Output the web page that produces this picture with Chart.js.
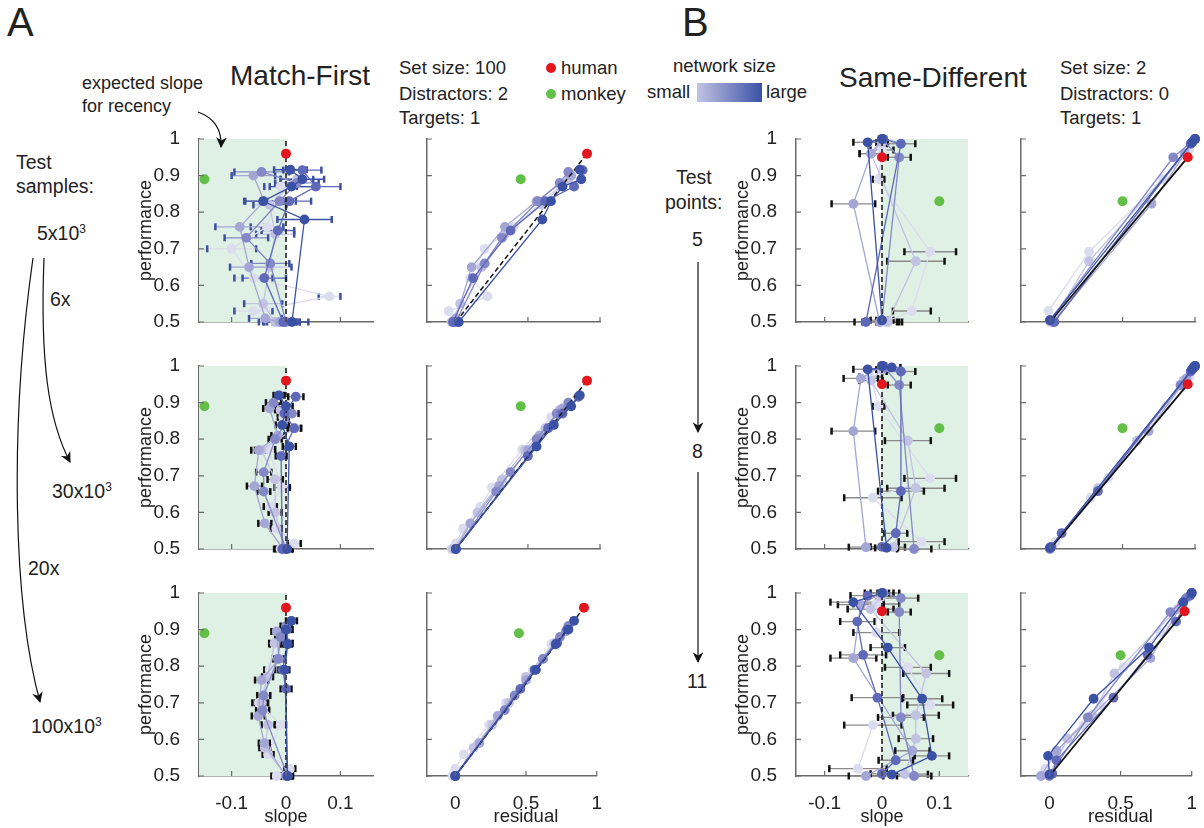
<!DOCTYPE html>
<html>
<head>
<meta charset="utf-8">
<script src="https://cdn.jsdelivr.net/npm/chart.js@4.4.1/dist/chart.umd.min.js"></script>
<style>
  body { margin: 0; background: #fff; }
  #fig { position: relative; width: 1204px; height: 828px; overflow: hidden;
         font-family: "Liberation Sans", Arial, sans-serif; color: #222; }
  .t { position: absolute; white-space: nowrap; line-height: 1; font-size: 18.5px; }
  .big { font-size: 19.5px; }
  .dot { position: absolute; width: 10px; height: 10px; border-radius: 50%; }
  canvas { position: absolute; }
  sup { font-size: 12px; vertical-align: 7px; line-height: 0; }
  #arrows { position: absolute; left: 0; top: 0; pointer-events: none; z-index: 5; }
</style>
</head>
<body>
<div id="fig">
  <div class="t" style="left:7px;top:2px;font-size:40px">A</div>
  <div class="t" style="left:682px;top:2px;font-size:40px">B</div>

  <div class="t" style="left:82px;top:74px;font-size:18px">expected slope</div>
  <div class="t" style="left:82px;top:97px;font-size:18px">for recency</div>
  <div class="t" style="left:230px;top:62px;font-size:28px">Match-First</div>
  <div class="t" style="left:399px;top:59px">Set size: 100</div>
  <div class="t" style="left:399px;top:85px">Distractors: 2</div>
  <div class="t" style="left:399px;top:109px">Targets: 1</div>
  <div class="dot" style="left:546px;top:63px;background:#e3161e"></div>
  <div class="t" style="left:561px;top:59px">human</div>
  <div class="dot" style="left:546px;top:89px;background:#62bf47"></div>
  <div class="t" style="left:561px;top:85px">monkey</div>
  <div class="t" style="left:673px;top:57px">network size</div>
  <div class="t" style="left:647px;top:83px">small</div>
  <div style="position:absolute;left:697px;top:83px;width:65px;height:19px;background:linear-gradient(90deg,#c2c3e3,#3a51a5)"></div>
  <div class="t" style="left:766px;top:83px">large</div>
  <div class="t" style="left:839px;top:64px;font-size:28px">Same-Different</div>
  <div class="t" style="left:1060px;top:59px">Set size: 2</div>
  <div class="t" style="left:1060px;top:85px">Distractors: 0</div>
  <div class="t" style="left:1060px;top:109px">Targets: 1</div>

  <div class="t big" style="left:16px;top:153px">Test</div>
  <div class="t big" style="left:16px;top:177px">samples:</div>
  <div class="t big" style="left:37px;top:224px">5x10<sup>3</sup></div>
  <div class="t big" style="left:50px;top:290px">6x</div>
  <div class="t big" style="left:52px;top:482px">30x10<sup>3</sup></div>
  <div class="t big" style="left:28px;top:559px">20x</div>
  <div class="t big" style="left:31px;top:717px">100x10<sup>3</sup></div>

  <div class="t big" style="left:676px;top:168px">Test</div>
  <div class="t big" style="left:665px;top:193px">points:</div>
  <div class="t big" style="left:692px;top:230px">5</div>
  <div class="t big" style="left:692px;top:442px">8</div>
  <div class="t big" style="left:687px;top:672px">11</div>

  <svg id="arrows" width="1204" height="828">
    <defs>
      <marker id="ah" viewBox="0 0 10 10" refX="9" refY="5" markerWidth="9" markerHeight="9" orient="auto">
        <path d="M0,0 L10,5 L0,10 L3,5 z" fill="#111"/>
      </marker>
    </defs>
    <g fill="none" stroke="#111" stroke-width="1.2" marker-end="url(#ah)">
      <path d="M44,258 C40,360 48,420 70,462"/>
      <path d="M33,258 C10,420 12,600 40,702"/>
      <path d="M198,112 C212,117 222,128 221,147"/>
      <path d="M698,262 L698,432"/>
      <path d="M698,472 L698,662"/>
    </g>
  </svg>
</div>

<script>
// ---- data ----
const perfTicks = [0.5, 0.6, 0.7, 0.8, 0.9, 1]
const slopeTicks = [-0.1, 0, 0.1]
const residTicks = [0, 0.5, 1]

// human / monkey reference points: [slope, performance, residual]
const humanA = [0, 0.96, 0.91]
const monkeyA = [-0.15, 0.89, 0.45]
const humanB = [0, 0.95, 0.95]
const monkeyB = [0.1, 0.83, 0.5]

// network sizes, small -> large; one inner array per network

// Match-First, 5x10^3 test samples
const A1_perf = [
  [0.50, 0.53, 0.57, 0.62, 0.70, 0.76, 0.87],
  [0.50, 0.55, 0.65, 0.74, 0.82, 0.89],
  [0.50, 0.51, 0.65, 0.76, 0.83, 0.90],
  [0.50, 0.66, 0.73, 0.83, 0.88, 0.91],
  [0.50, 0.62, 0.75, 0.83, 0.87, 0.915],
  [0.50, 0.78, 0.83, 0.87, 0.89, 0.916],
]
const A1_slope = [
  [-0.01, -0.06, 0.08, -0.06, -0.10, -0.035, -0.01],
  [-0.02, -0.042, -0.03, -0.02, -0.03, 0.02],
  [-0.012, -0.038, -0.068, -0.085, -0.04, -0.06],
  [0.0, -0.029, -0.073, -0.012, 0.02, -0.045],
  [-0.005, -0.04, -0.015, 0.006, 0.055, 0.03],
  [0.011, 0.034, -0.042, 0.01, 0.03, 0.008],
]
const A1_err = [
  [0.03, 0.035, 0.02, 0.035, 0.045, 0.03, 0.03],
  [0.03, 0.035, 0.04, 0.035, 0.03, 0.03],
  [0.03, 0.03, 0.035, 0.045, 0.035, 0.04],
  [0.025, 0.035, 0.04, 0.03, 0.04, 0.05],
  [0.03, 0.04, 0.03, 0.04, 0.045, 0.035],
  [0.03, 0.05, 0.035, 0.04, 0.04, 0.03],
]
const A1_resid = [
  [-0.02, -0.05, 0.22, 0.10, 0.20, 0.40, 0.72],
  [-0.03, 0.03, 0.18, 0.34, 0.60, 0.78],
  [0.0, 0.0, 0.11, 0.34, 0.56, 0.80],
  [0.0, 0.20, 0.32, 0.57, 0.72, 0.78],
  [-0.02, 0.12, 0.38, 0.62, 0.82, 0.88],
  [0.02, 0.60, 0.66, 0.74, 0.87, 0.86],
]

// Match-First, 30x10^3 test samples
const A2_perf = [
  [0.50, 0.515, 0.556, 0.616, 0.668, 0.772, 0.86],
  [0.50, 0.60, 0.69, 0.77, 0.83, 0.88],
  [0.50, 0.57, 0.672, 0.77, 0.81, 0.884],
  [0.50, 0.657, 0.71, 0.80, 0.87, 0.90],
  [0.50, 0.754, 0.83, 0.87, 0.916],
  [0.50, 0.78, 0.839, 0.89, 0.92],
]
const A2_slope = [
  [-0.01, 0.015, -0.018, -0.029, -0.007, -0.032, -0.005],
  [0.0, -0.02, -0.02, -0.045, 0.016, -0.01],
  [-0.005, -0.039, -0.058, -0.05, -0.015, -0.03],
  [0.0, -0.041, -0.041, -0.02, 0.011, -0.023],
  [-0.007, -0.009, 0.015, -0.003, 0.018],
  [0.002, 0.006, -0.007, 0.0, -0.013],
]
const A2_err = [
  [0.012, 0.012, 0.01, 0.012, 0.014, 0.012, 0.01],
  [0.012, 0.012, 0.014, 0.012, 0.012, 0.01],
  [0.01, 0.012, 0.014, 0.014, 0.012, 0.012],
  [0.01, 0.012, 0.014, 0.012, 0.012, 0.014],
  [0.012, 0.01, 0.012, 0.012, 0.014],
  [0.01, 0.012, 0.012, 0.012, 0.01],
]
const A2_resid = [
  [-0.03, 0.0, 0.05, 0.17, 0.25, 0.46, 0.66],
  [-0.02, 0.15, 0.32, 0.48, 0.62, 0.72],
  [0.0, 0.10, 0.30, 0.50, 0.58, 0.74],
  [0.0, 0.28, 0.38, 0.56, 0.70, 0.78],
  [0.0, 0.50, 0.64, 0.74, 0.85],
  [0.0, 0.56, 0.68, 0.80, 0.86],
]

// Match-First, 100x10^3 test samples
const A3_perf = [
  [0.50, 0.52, 0.559, 0.64, 0.70, 0.79, 0.86],
  [0.50, 0.577, 0.64, 0.70, 0.771, 0.863],
  [0.50, 0.59, 0.664, 0.762, 0.82, 0.895],
  [0.50, 0.68, 0.72, 0.82, 0.88, 0.91],
  [0.50, 0.738, 0.79, 0.863, 0.90],
  [0.50, 0.79, 0.86, 0.90, 0.924],
]
const A3_slope = [
  [-0.017, 0.007, -0.033, -0.01, -0.05, -0.03, -0.02],
  [0.0, -0.039, -0.033, -0.045, -0.034, -0.021],
  [0.0, -0.04, -0.051, -0.045, -0.013, -0.017],
  [0.003, -0.043, -0.041, -0.015, -0.01, 0.0],
  [0.002, 0.0, -0.006, 0.002, 0.002],
  [0.003, -0.002, 0.003, 0.0, 0.01],
]
const A3_err = [
  [0.01, 0.01, 0.01, 0.01, 0.012, 0.01, 0.01],
  [0.01, 0.01, 0.012, 0.012, 0.01, 0.01],
  [0.008, 0.01, 0.012, 0.012, 0.01, 0.01],
  [0.008, 0.012, 0.012, 0.01, 0.01, 0.01],
  [0.01, 0.01, 0.008, 0.01, 0.01],
  [0.01, 0.008, 0.008, 0.01, 0.01],
]
const A3_resid = [
  [-0.02, 0.0, 0.06, 0.24, 0.36, 0.55, 0.68],
  [0.0, 0.13, 0.26, 0.38, 0.50, 0.70],
  [0.0, 0.17, 0.30, 0.50, 0.62, 0.78],
  [0.0, 0.35, 0.42, 0.62, 0.74, 0.80],
  [0.0, 0.46, 0.56, 0.72, 0.79],
  [0.0, 0.57, 0.71, 0.80, 0.84],
]

// Same-Different, 5 test points
const B1_perf = [
  [0.50, 0.53, 0.692, 0.89, 0.97],
  [0.50, 0.666, 0.96, 0.99],
  [0.50, 0.823, 0.96, 1.0],
  [0.505, 0.95, 1.0],
  [0.50, 0.987, 1.0],
  [0.505, 0.991, 1.0],
]
const B1_slope = [
  [0.005, 0.052, 0.084, -0.006, 0.0],
  [0.01, 0.059, -0.019, 0.0],
  [-0.004, -0.05, -0.019, 0.0],
  [0.0, 0.03, 0.0],
  [-0.028, 0.033, 0.002],
  [0.0, -0.025, 0.0],
]
const B1_err = [
  [0.03, 0.033, 0.045, 0.01, 0.02],
  [0.02, 0.05, 0.02, 0.01],
  [0.03, 0.038, 0.02, 0.005],
  [0.02, 0.02, 0.005],
  [0.02, 0.025, 0.005],
  [0.01, 0.025, 0.005],
]
const B1_resid = [
  [0.0, -0.01, 0.27, 0.78, 0.96],
  [0.01, 0.27, 0.93, 0.98],
  [0.02, 0.70, 0.93, 1.0],
  [0.0, 0.85, 1.0],
  [0.03, 0.97, 1.0],
  [0.0, 0.98, 1.0],
]

// Same-Different, 8 test points
const B2_perf = [
  [0.52, 0.64, 0.693, 0.89, 0.97],
  [0.505, 0.666, 0.796, 0.96, 0.99],
  [0.505, 0.822, 0.966, 1.0],
  [0.50, 0.948, 0.995],
  [0.506, 0.543, 0.658, 0.985, 1.0],
  [0.503, 0.991, 0.996, 1.0],
]
const B2_slope = [
  [0.069, -0.016, 0.084, -0.006, -0.02],
  [0.02, 0.059, 0.045, -0.019, 0.0],
  [-0.028, -0.05, -0.037, 0.0],
  [0.056, 0.03, 0.005],
  [0.0, 0.024, 0.033, 0.033, 0.002],
  [0.008, -0.025, 0.017, 0.0],
]
const B2_err = [
  [0.04, 0.05, 0.045, 0.01, 0.02],
  [0.02, 0.05, 0.04, 0.02, 0.01],
  [0.03, 0.038, 0.03, 0.005],
  [0.03, 0.02, 0.01],
  [0.02, 0.02, 0.04, 0.025, 0.005],
  [0.02, 0.025, 0.015, 0.005],
]
const B2_resid = [
  [0.04, 0.28, 0.40, 0.80, 0.96],
  [0.01, 0.33, 0.60, 0.92, 0.98],
  [0.0, 0.68, 0.94, 1.0],
  [0.0, 0.90, 0.99],
  [0.01, 0.08, 0.33, 0.97, 1.0],
  [0.0, 0.98, 0.99, 1.0],
]

// Same-Different, 11 test points
const B3_perf = [
  [0.52, 0.639, 0.694, 0.797, 0.892, 0.97],
  [0.505, 0.602, 0.666, 0.78, 0.956, 0.99],
  [0.50, 0.569, 0.822, 0.968, 1.0],
  [0.50, 0.66, 0.948, 0.986, 1.0],
  [0.506, 0.543, 0.714, 0.831, 0.922, 0.993],
  [0.504, 0.555, 0.711, 0.851, 0.975, 1.0],
]
const B3_slope = [
  [-0.042, -0.016, 0.084, 0.045, -0.01, -0.01],
  [0.04, 0.059, 0.059, 0.077, -0.02, 0.0],
  [-0.028, 0.053, -0.05, -0.037, 0.0],
  [0.056, 0.033, 0.03, 0.033, 0.002],
  [0.0, 0.024, -0.008, -0.033, -0.043, -0.025],
  [0.017, 0.087, 0.07, 0.01, -0.05, 0.0],
]
const B3_err = [
  [0.05, 0.05, 0.04, 0.04, 0.04, 0.04],
  [0.04, 0.03, 0.04, 0.04, 0.04, 0.03],
  [0.03, 0.03, 0.04, 0.04, 0.03],
  [0.03, 0.04, 0.02, 0.03, 0.01],
  [0.02, 0.03, 0.045, 0.04, 0.03, 0.03],
  [0.02, 0.03, 0.035, 0.03, 0.04, 0.02],
]
const B3_resid = [
  [-0.03, 0.24, 0.36, 0.52, 0.78, 0.94],
  [0.0, 0.125, 0.30, 0.456, 0.90, 0.98],
  [-0.06, 0.05, 0.71, 0.93, 1.0],
  [0.0, 0.27, 0.85, 0.96, 1.0],
  [0.02, 0.05, 0.45, 0.69, 0.89, 0.99],
  [0.0, -0.01, 0.31, 0.70, 0.94, 1.0],
]

// ---- styling ----
const NET_COLORS = ['#dcdcef', '#c2c3e3', '#a4a6d5', '#8488c7', '#6069b9', '#3a51a5']
const RED = '#e3161e'
const GREEN = '#62bf47'
const SHADE = '#dff0e4'
const AXIS = '#6a6a6a'

const YW = 68 // width of the y scale box
const XH = 56 // height of the x scale box
const PT = 23 // covers the half label + tick padding chart.js reserves on top
const PR = 10

Chart.defaults.font.family = '"Liberation Sans", Arial, sans-serif'
Chart.defaults.color = '#222'
Chart.defaults.animation = false

const fmt = (v) => String(+Number(v).toFixed(2))

// green area for the expected slope
const shadePlugin = {
  id: 'shade',
  beforeDatasetsDraw(chart, args, opts) {
    if (opts.from == null) return
    const { ctx, chartArea, scales: { x } } = chart
    const x0 = x.getPixelForValue(opts.from)
    const x1 = x.getPixelForValue(opts.to)
    ctx.save()
    ctx.fillStyle = SHADE
    ctx.fillRect(Math.min(x0, x1), chartArea.top, Math.abs(x1 - x0), chartArea.bottom - chartArea.top)
    ctx.restore()
  },
}

// horizontal error bars with caps
const errorBarPlugin = {
  id: 'errorBars',
  beforeDatasetsDraw(chart, args, opts) {
    const { ctx, scales: { x, y } } = chart
    const sets = chart.data.datasets.filter((d) => d.err).sort((a, b) => b.order - a.order)
    ctx.save()
    sets.forEach((ds) => {
      ds.data.forEach((p, j) => {
        const e = ds.err[j]
        const xa = x.getPixelForValue(p.x - e)
        const xb = x.getPixelForValue(p.x + e)
        const yy = y.getPixelForValue(p.y)
        ctx.strokeStyle = opts.line || ds.borderColor
        ctx.lineWidth = 1.3
        ctx.beginPath()
        ctx.moveTo(xa, yy)
        ctx.lineTo(xb, yy)
        ctx.stroke()
        ctx.fillStyle = opts.cap
        ctx.fillRect(xa - 1.2, yy - 3.5, 2.5, 7)
        ctx.fillRect(xb - 1.2, yy - 3.5, 2.5, 7)
      })
    })
    ctx.restore()
  },
}

// MATLAB style inward ticks
const inTicksPlugin = {
  id: 'inTicks',
  afterDraw(chart) {
    const { ctx, chartArea, scales: { x, y } } = chart
    ctx.save()
    ctx.strokeStyle = AXIS
    ctx.lineWidth = 1.2
    ctx.beginPath()
    x.ticks.forEach((t) => {
      const px = x.getPixelForValue(t.value)
      ctx.moveTo(px, chartArea.bottom)
      ctx.lineTo(px, chartArea.bottom - 5)
    })
    y.ticks.forEach((t) => {
      const py = y.getPixelForValue(t.value)
      ctx.moveTo(chartArea.left, py)
      ctx.lineTo(chartArea.left + 5, py)
    })
    ctx.stroke()
    ctx.restore()
  },
}

function networkSets(perf, xs, errs) {
  return perf.map((p, i) => ({
    data: p.map((v, j) => ({ x: xs[i][j], y: v })),
    err: errs ? errs[i] : null,
    showLine: true,
    borderColor: NET_COLORS[i],
    backgroundColor: NET_COLORS[i],
    borderWidth: 1.3,
    pointRadius: 4.9,
    pointBorderWidth: 0,
    clip: false,
    order: 10 - i,
  }))
}

function dotSet(x, y, color) {
  return { data: [{ x, y }], backgroundColor: color, pointRadius: 5, pointBorderWidth: 0, clip: false, order: 0 }
}

const fig = document.getElementById('fig')

function subplot(o) {
  const cv = document.createElement('canvas')
  cv.width = o.R - o.L + YW + PR
  cv.height = o.B - o.T + PT + XH
  cv.style.left = o.L - YW + 'px'
  cv.style.top = o.T - PT + 'px'
  fig.appendChild(cv)

  const chart = new Chart(cv, {
    type: 'scatter',
    data: { datasets: o.datasets },
    plugins: [shadePlugin, errorBarPlugin, inTicksPlugin],
    options: {
      responsive: false,
      devicePixelRatio: 1,
      layout: { padding: { top: PT, right: PR, left: 0, bottom: 0 } },
      plugins: {
        legend: { display: false },
        tooltip: { enabled: false },
        shade: o.shade || {},
        errorBars: o.errStyle || {},
      },
      scales: {
        x: {
          type: 'linear',
          min: o.xMin,
          max: o.xMax,
          afterFit: (s) => { s.height = XH },
          afterBuildTicks: (s) => { s.ticks = o.xTicks.map((v) => ({ value: v })) },
          grid: { display: false },
          border: { color: AXIS, width: 1.5 },
          ticks: { display: o.showX, padding: 8, font: { size: 19 }, callback: fmt },
          title: { display: o.showX && !!o.xTitle, text: o.xTitle, font: { size: 18 }, padding: { top: 0, bottom: 4 } },
        },
        y: {
          type: 'linear',
          min: 0.5,
          max: 1,
          afterFit: (s) => { s.width = YW },
          afterBuildTicks: (s) => { s.ticks = perfTicks.map((v) => ({ value: v })) },
          grid: { display: false },
          border: { color: AXIS, width: 1.5 },
          ticks: { display: o.showY, padding: 11, font: { size: 19 }, callback: fmt },
          title: { display: o.showY, text: 'performance', font: { size: 18 }, padding: { top: 4, bottom: 0 } },
        },
      },
    },
  })
  return chart
}

function zeroLine() {
  return {
    data: [{ x: 0, y: 0.5 }, { x: 0, y: 1 }],
    showLine: true, borderColor: '#111', borderWidth: 1.5, borderDash: [5, 3],
    pointRadius: 0, clip: false, order: 5.5,
  }
}

function refLine(human, dashed) {
  return {
    data: [{ x: 0, y: 0.5 }, { x: human[2], y: human[1] }],
    showLine: true, borderColor: '#111', borderWidth: dashed ? 1.5 : 1.8, borderDash: dashed ? [5, 3] : [],
    pointRadius: 0, clip: false, order: 5.5,
  }
}

const ROWS_T = [139, 366, 593]
const ROWS_B = [322, 549, 776]

const rowsA = [
  [A1_perf, A1_slope, A1_err, A1_resid],
  [A2_perf, A2_slope, A2_err, A2_resid],
  [A3_perf, A3_slope, A3_err, A3_resid],
]
const rowsB = [
  [B1_perf, B1_slope, B1_err, B1_resid],
  [B2_perf, B2_slope, B2_err, B2_resid],
  [B3_perf, B3_slope, B3_err, B3_resid],
]

function residTitle(chart) {
  const el = document.createElement('div')
  el.className = 't'
  el.textContent = 'residual'
  el.style.top = '807px'
  fig.appendChild(el)
  const cx = parseFloat(chart.canvas.style.left) + chart.scales.x.getPixelForValue(0.5)
  el.style.left = cx - el.offsetWidth / 2 + 'px'
}

rowsA.forEach(([perf, slope, err, resid], r) => {
  const last = r === 2
  subplot({
    L: 199, R: 373, T: ROWS_T[r], B: ROWS_B[r],
    xMin: -0.16, xMax: 0.16, xTicks: slopeTicks, showX: last, xTitle: 'slope', showY: true,
    shade: { from: -0.16, to: 0 },
    errStyle: r === 0 ? { line: null, cap: '#3d4f9f' } : { line: '#8a8a8a', cap: '#111' },
    datasets: [
      dotSet(humanA[0], humanA[1], RED),
      dotSet(monkeyA[0], monkeyA[1], GREEN),
      zeroLine(),
      ...networkSets(perf, slope, err),
    ],
  })
  const c = subplot({
    L: 427, R: 600, T: ROWS_T[r], B: ROWS_B[r],
    xMin: -0.2, xMax: 1, xTicks: residTicks, showX: last, xTitle: null, showY: false,
    datasets: [
      dotSet(humanA[2], humanA[1], RED),
      dotSet(monkeyA[2], monkeyA[1], GREEN),
      refLine(humanA, true),
      ...networkSets(perf, resid, null),
    ],
  })
  if (last) residTitle(c)
})

rowsB.forEach(([perf, slope, err, resid], r) => {
  const last = r === 2
  subplot({
    L: 796, R: 968, T: ROWS_T[r], B: ROWS_B[r],
    xMin: -0.15, xMax: 0.15, xTicks: slopeTicks, showX: last, xTitle: 'slope', showY: true,
    shade: { from: 0, to: 0.15 },
    errStyle: { line: '#8a8a8a', cap: '#111' },
    datasets: [
      dotSet(humanB[0], humanB[1], RED),
      dotSet(monkeyB[0], monkeyB[1], GREEN),
      zeroLine(),
      ...networkSets(perf, slope, err),
    ],
  })
  const c = subplot({
    L: 1021, R: 1195, T: ROWS_T[r], B: ROWS_B[r],
    xMin: -0.2, xMax: 1, xTicks: residTicks, showX: last, xTitle: null, showY: false,
    datasets: [
      dotSet(humanB[2], humanB[1], RED),
      dotSet(monkeyB[2], monkeyB[1], GREEN),
      refLine(humanB, false),
      ...networkSets(perf, resid, null),
    ],
  })
  if (last) residTitle(c)
})
</script>
</body>
</html>
